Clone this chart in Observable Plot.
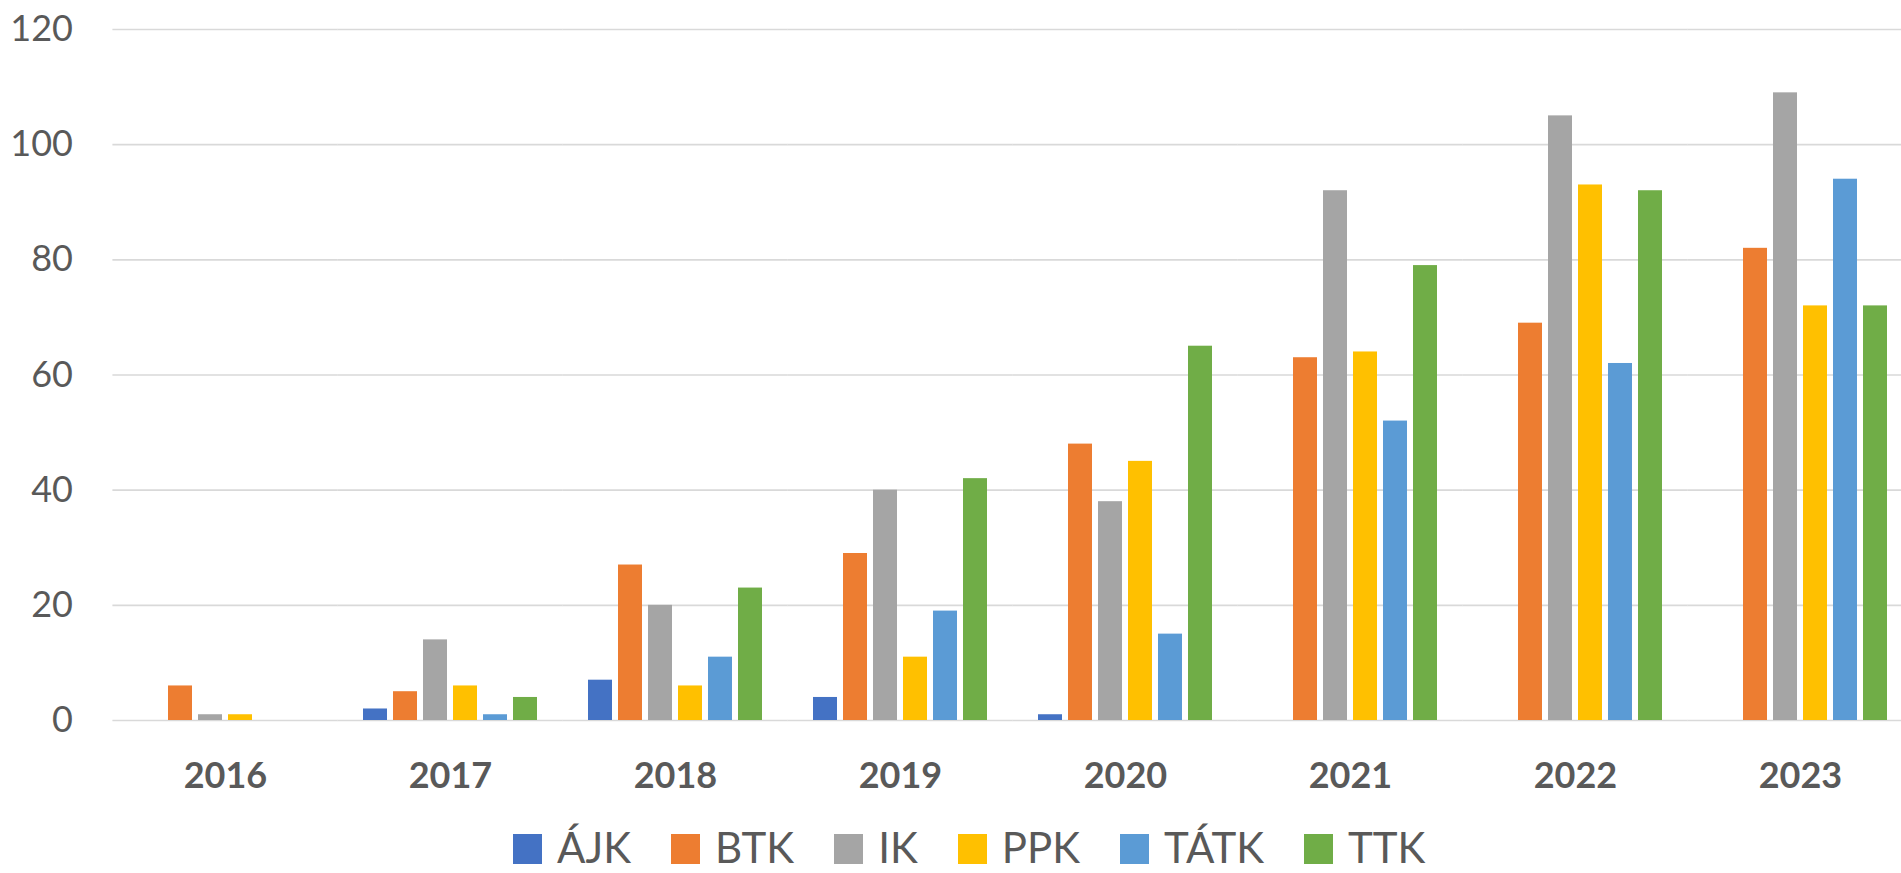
<!DOCTYPE html>
<html><head><meta charset="utf-8">
<script src="https://cdn.jsdelivr.net/npm/d3@7"></script>
<script src="https://cdn.jsdelivr.net/npm/@observablehq/plot@0.6"></script>
<style>
html,body{margin:0;padding:0;background:#fff;overflow:hidden}
#chart{width:1901px;height:873px;position:relative;overflow:hidden;background:#fff}
#chart svg{display:block}
#legend{display:flex;align-items:flex-start;height:53px;padding-left:513px;font-family:Lato,sans-serif;font-size:42px;color:#595959;line-height:31px;white-space:nowrap}
.sw{width:29px;height:30px;margin-top:14px;margin-right:15px;flex:none}
.lt{margin-top:12.25px;margin-right:40px;flex:none;height:31px}
</style></head><body><div id="chart"></div>
<script>
const years = ["2016","2017","2018","2019","2020","2021","2022","2023"];
const faculties = ["ÁJK","BTK","IK","PPK","TÁTK","TTK"];
const colors = ["#4472C4","#ED7D31","#A5A5A5","#FFC000","#5B9BD5","#70AD47"];
const AJK  = [0, 2, 7, 4, 1, 0, 0, 0];
const BTK  = [6, 5, 27, 29, 48, 63, 69, 82];
const IK   = [1, 14, 20, 40, 38, 92, 105, 109];
const PPK  = [1, 6, 6, 11, 45, 64, 93, 72];
const TATK = [0, 1, 11, 19, 15, 52, 62, 94];
const TTK  = [0, 4, 23, 42, 65, 79, 92, 72];
const yTicks = [0, 20, 40, 60, 80, 100, 120];

const series = [AJK, BTK, IK, PPK, TATK, TTK];
const data = [];
years.forEach((yr, i) => faculties.forEach((f, j) => data.push({year: yr, faculty: f, value: series[j][i]})));

const plot = Plot.plot({
  width: 1901, height: 820,
  marginLeft: 112, marginRight: -11, marginTop: 29, marginBottom: 100,
  style: {fontFamily: "Lato, sans-serif", fontSize: "36px", color: "#595959", background: "white", overflow: "visible"},
  fx: {domain: years, paddingInner: 0.2, paddingOuter: 0.1, label: null},
  x: {domain: faculties, paddingInner: 0.21, paddingOuter: 0.105, axis: null},
  y: {domain: [0, 120], label: null},
  color: {domain: faculties, range: colors},
  marks: [
    Plot.ruleY(yTicks, {stroke: "#D9D9D9", strokeWidth: 1.6, insetLeft: -22.6, insetRight: -22.6}),
    Plot.barY(data, {fx: "year", x: "faculty", y: "value", fill: "faculty"}),
    Plot.axisY({ticks: yTicks, tickSize: 0, tickPadding: 62.5, label: null, fontSize: 36}),
    Plot.axisFx({anchor: "bottom", tickSize: 0, tickPadding: 42, label: null, fontWeight: "bold", fontSize: 36})
  ]
});
const chart = document.getElementById("chart");
chart.appendChild(plot);

const legend = document.createElement("div");
legend.id = "legend";
faculties.forEach((f, j) => {
  const sw = document.createElement("div");
  sw.className = "sw";
  sw.style.background = colors[j];
  const t = document.createElement("div");
  t.className = "lt";
  t.textContent = f;
  legend.appendChild(sw);
  legend.appendChild(t);
});
chart.appendChild(legend);
</script></body></html>
